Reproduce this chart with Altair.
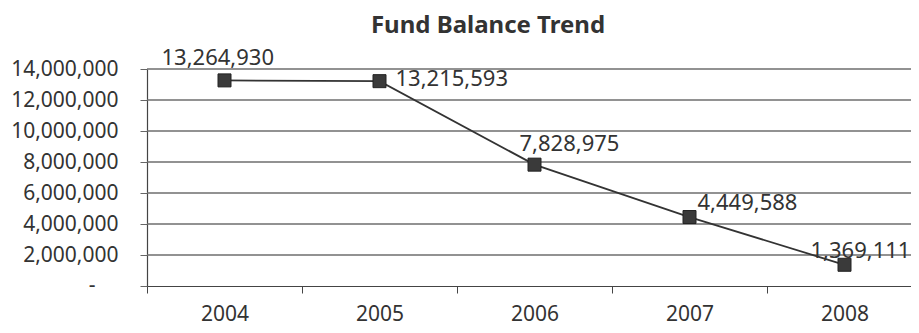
import altair as alt
import pandas as pd

years = ["2004", "2005", "2006", "2007", "2008"]
balances = [13264930, 13215593, 7828975, 4449588, 1369111]
y_ticks = [0, 2000000, 4000000, 6000000, 8000000, 10000000, 12000000, 14000000]
zero_label = "-"

df = pd.DataFrame({"year": years, "balance": balances})
grid_df = pd.DataFrame({"balance": y_ticks[1:]})
zero_df = pd.DataFrame({"balance": [y_ticks[0]], "label": [zero_label]})

FONT = "Noto Sans"
TXT = "#333333"

x_scale = alt.Scale(type="band", range=[0, 775], paddingInner=0, paddingOuter=0)
y_scale = alt.Scale(domain=[0, 14000000], nice=False)

x_axis = alt.Axis(
    title=None, tickBand="extent", tickSize=7, labelPadding=10,
    labelFont=FONT, labelFontSize=21, labelColor=TXT, labelAngle=0,
    domainColor="#444444", tickColor="#444444", grid=False, domainWidth=1.2,
)
y_axis = alt.Axis(
    title=None, values=y_ticks,
    labelExpr="datum.value == 0 ? '' : format(datum.value, ',')",
    tickSize=7, labelPadding=22, labelFont=FONT, labelFontSize=21, labelColor=TXT,
    grid=False, tickColor="#666666", domainColor="#444444", domainWidth=1.2,
)

x_enc = alt.X("year:N", scale=x_scale, axis=x_axis)
y_enc = alt.Y("balance:Q", scale=y_scale, axis=y_axis)

grid = alt.Chart(grid_df).mark_rule(color="#6e6e6e", strokeWidth=1.4).encode(
    y=y_enc,
    x=alt.value(0), x2=alt.value(775),
)

zero = alt.Chart(zero_df).mark_text(
    align="center", baseline="middle", dx=-55, font=FONT, fontSize=21, color=TXT,
).encode(y=y_enc, x=alt.value(0), text="label:N")

base = alt.Chart(df).encode(x=x_enc, y=y_enc)

line = base.mark_line(color="#333333", strokeWidth=1.8)
pts = base.mark_point(shape="square", size=169, filled=True, color="#3a3a3a",
                      stroke="#222222", strokeWidth=1, opacity=1)

# label offsets (style) per year
offsets = {"2004": (-63, -22), "2005": (16, -2), "2006": (-15, -21),
           "2007": (8, -14), "2008": (-34, -14)}
labels = []
for yr, (dx, dy) in offsets.items():
    labels.append(
        base.transform_filter(alt.datum.year == yr).mark_text(
            align="left", baseline="middle", dx=dx, dy=dy,
            font=FONT, fontSize=22, color=TXT,
        ).encode(text=alt.Text("balance:Q", format=","))
    )

chart = alt.layer(grid, zero, line, pts, *labels).properties(
    width=764, height=217,
    padding={"left": 139, "top": 61, "right": 0, "bottom": 39},
    autosize=alt.AutoSizeParams(type="none"),
    title=alt.TitleParams("Fund Balance Trend", font=FONT, fontSize=24, fontWeight="bold",
                          color=TXT, anchor="middle", dx=-41, dy=-5),
).configure_view(stroke=None)

chart.save("out.html", embed_options={"renderer": "svg", "actions": False})
